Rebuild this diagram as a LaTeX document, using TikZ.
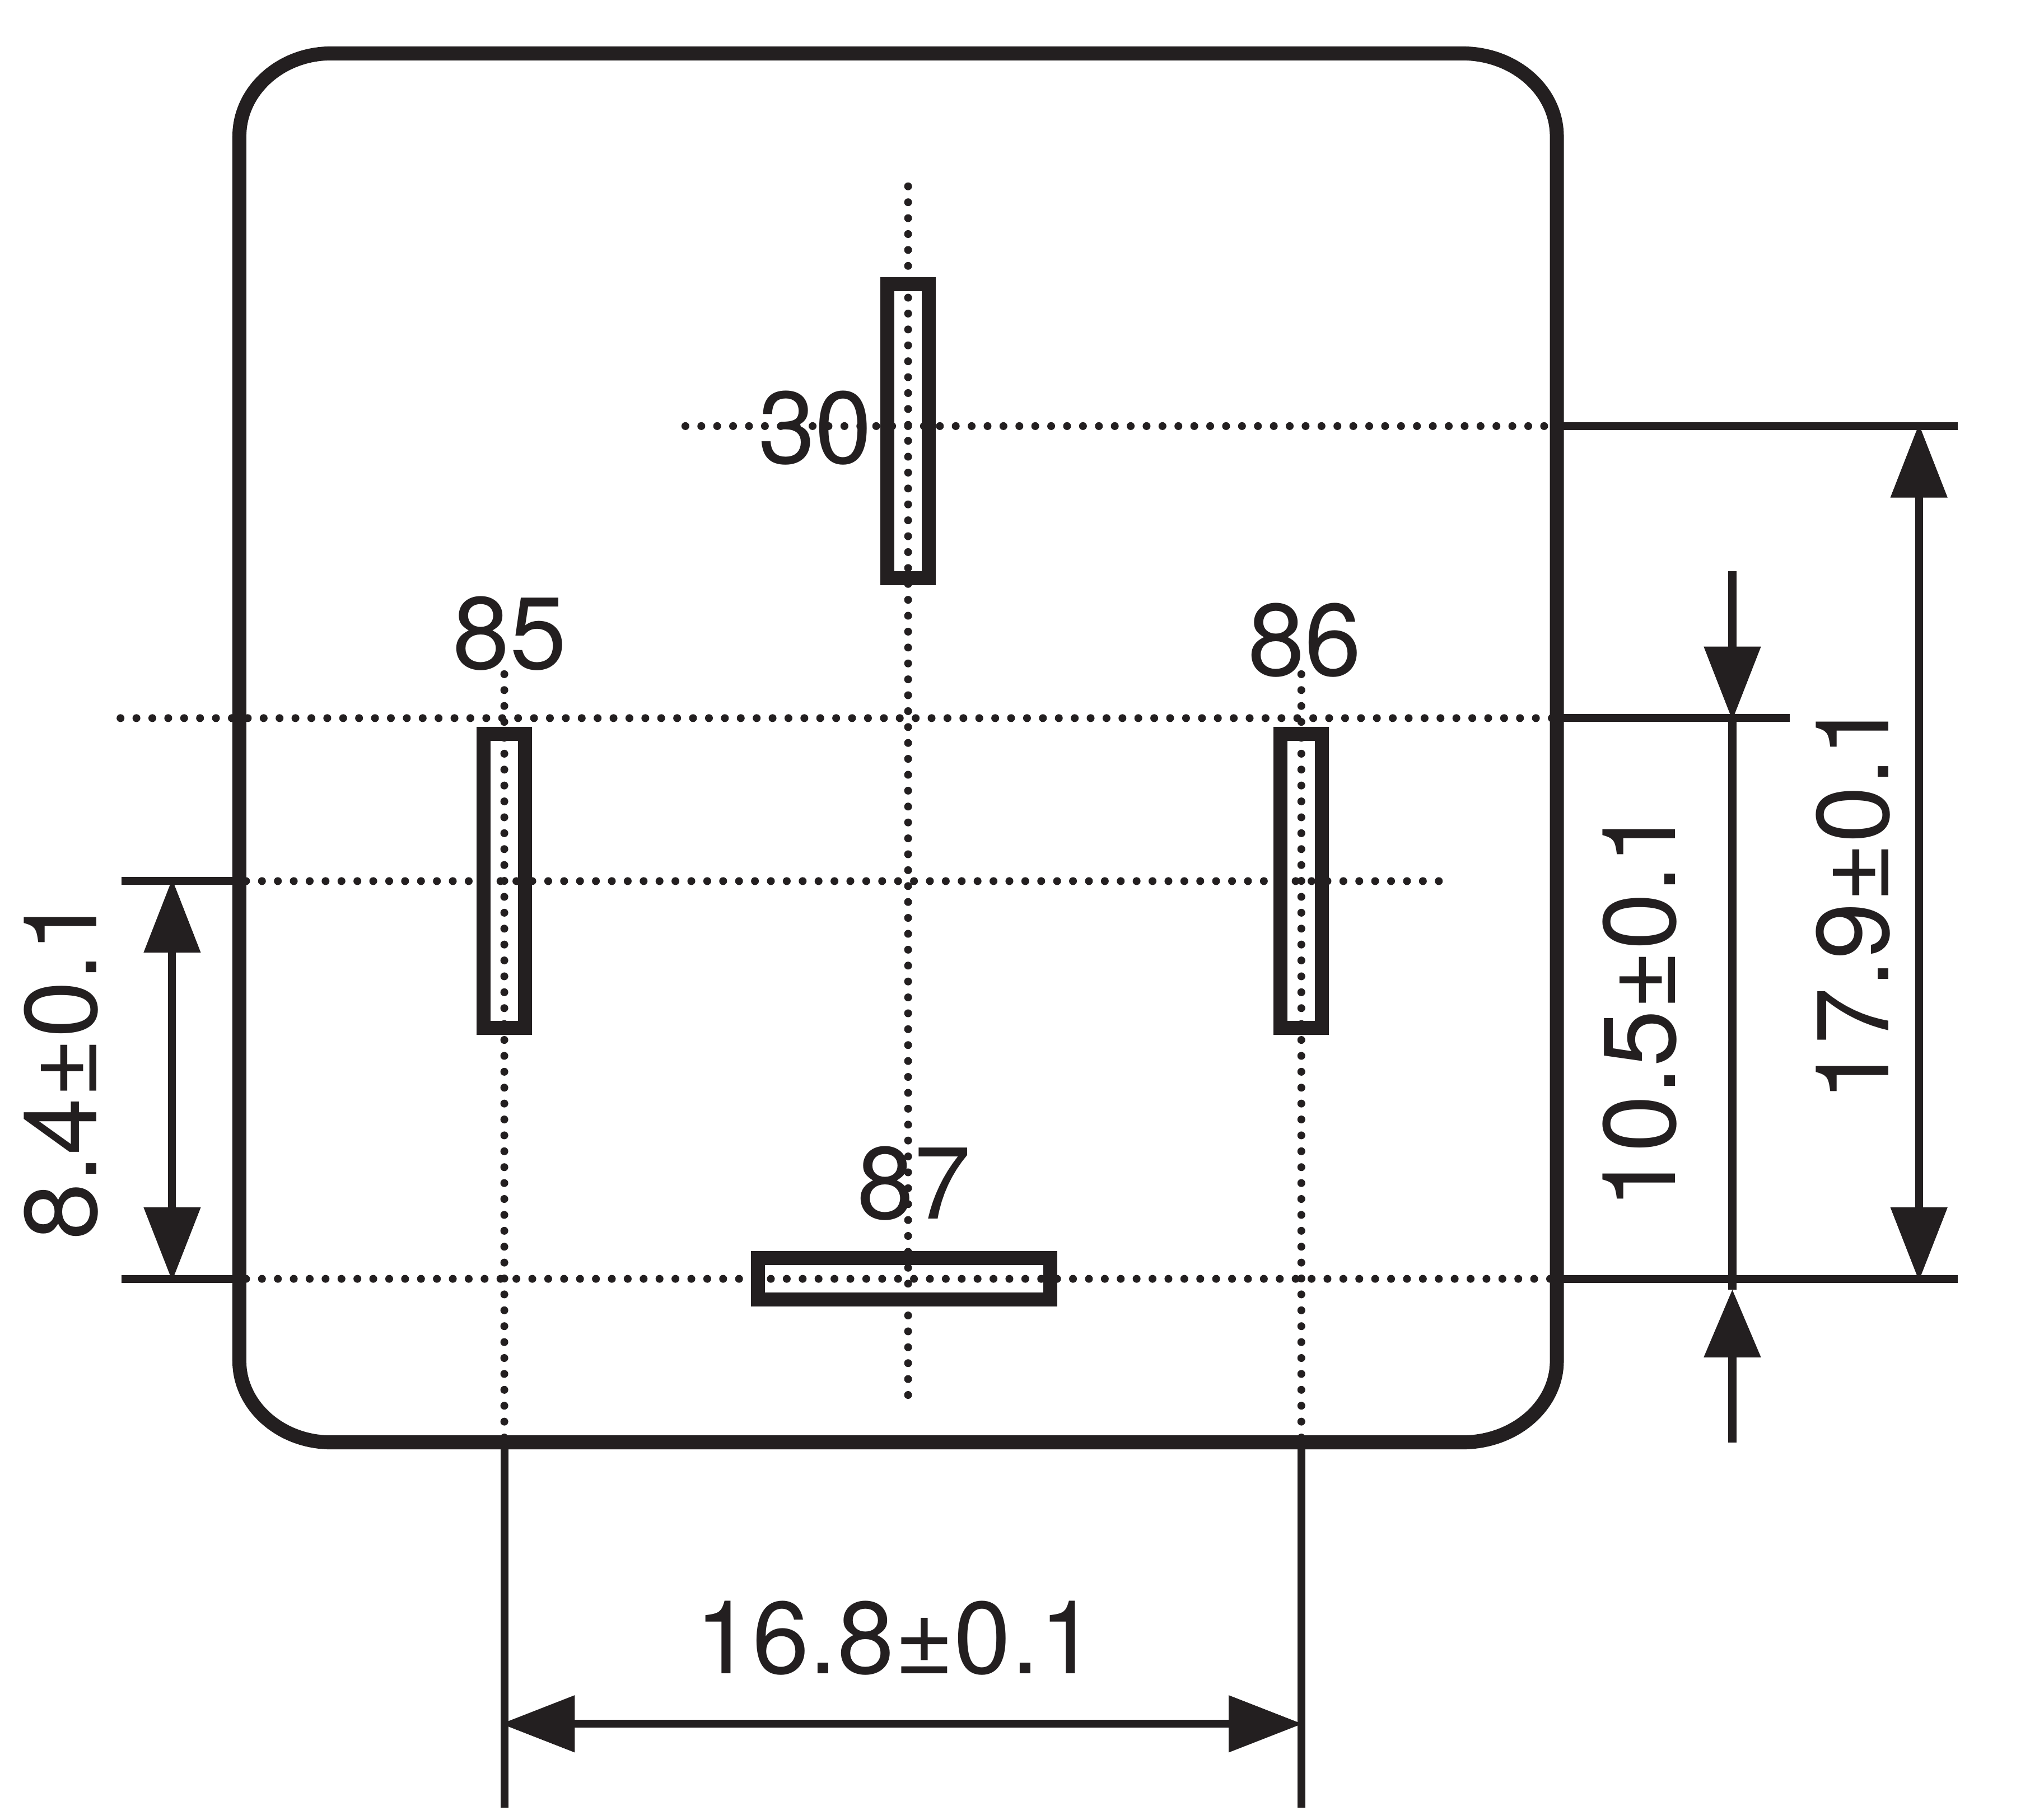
\documentclass[tikz,border=0pt]{standalone}
\usepackage{fontspec}
\setmainfont{TeX Gyre Heros}
\usetikzlibrary{arrows.meta}
\definecolor{ink}{HTML}{231F20}
\tikzset{
  outline/.style={draw=ink,line width=7.1pt,line join=round},
  pinbox/.style={draw=ink,fill=white,line width=7.1pt,inner sep=0pt,outer sep=0pt},
  dots/.style={draw=ink,line width=4pt,line cap=round,dash pattern=on 0pt off 8.08pt},
  dimline/.style={draw=ink,line width=4pt},
  tip/.tip={Triangle[length=37.5pt,width=28pt]},
  lowtip/.tip={Triangle[length=34.5pt,width=28pt]},
  lbl/.style={text=ink,inner sep=0pt,font=\fontsize{52}{52}\selectfont}
}
\begin{document}
\begin{tikzpicture}[x=0.009924cm,y=-0.00994cm]
\useasboundingbox[fill=white] (0cm,0cm) rectangle (36.25cm,-32.5cm);
% housing
\draw[outline] (596,96) -- (2633,96) .. controls (2727,96) and (2803,163) .. (2803,245)
  -- (2803,2447) .. controls (2803,2527) and (2727,2593) .. (2633,2593)
  -- (596,2593) .. controls (505,2593) and (431,2527) .. (431,2447)
  -- (431,245) .. controls (431,163) and (505,96) .. (596,96) -- cycle;
% pins
\node[pinbox,minimum width=0.74cm,minimum height=5.25cm] (p30) at (1635,775) {};
\node[pinbox,minimum width=0.74cm,minimum height=5.25cm] (p85) at (908,1584) {};
\node[pinbox,minimum width=0.74cm,minimum height=5.25cm] (p86) at (2343,1584) {};
\node[pinbox,minimum width=5.22cm,minimum height=0.74cm] (p87) at (1628,2299) {};
% centre lines
\draw[dots] (1635,335) -- (1635,2530);
\draw[dots] (1234,766) -- (2796,766);
\draw[dots] (217,1291) -- (2796,1291);
\draw[dots] (443,1584) -- (2596,1584);
\draw[dots] (443,2299) -- (2796,2299);
\draw[dots] (908,1212) -- (908,2592);
\draw[dots] (2343,1212) -- (2343,2592);
% extension line ends
\coordinate (r1a) at (2812,766);   \coordinate (r1b) at (3525,766);
\coordinate (r2a) at (2812,1291);  \coordinate (r2b) at (3222,1291);
\coordinate (r3a) at (2812,2299);  \coordinate (r3b) at (3525,2299);
\coordinate (l1a) at (219,1584);   \coordinate (l1b) at (431,1584);
\coordinate (l2a) at (219,2299);   \coordinate (l2b) at (431,2299);
\coordinate (b1a) at (908,2605);   \coordinate (b1b) at (908,3250);
\coordinate (b2a) at (2343,2605);  \coordinate (b2b) at (2343,3250);
\foreach \a/\b in {r1a/r1b,r2a/r2b,r3a/r3b,l1a/l1b,l2a/l2b,b1a/b1b,b2a/b2b}
  \draw[dimline] (\a) -- (\b);
% dimensions
\coordinate (d17a) at (3455,762);  \coordinate (d17b) at (3455,2303);
\draw[dimline,{tip}-{tip}] (d17a) -- (d17b);
\coordinate (d10t) at (3119,1027); \coordinate (d10a) at (3119,1295);
\coordinate (d10b) at (3119,2318); \coordinate (d10e) at (3119,2593);
\draw[dimline] (d10a) -- (d10b);
\draw[dimline,-{tip}] (d10t) -- (d10a);
\draw[dimline,-{lowtip}] (d10e) -- (d10b);
\coordinate (d8a) at (310,1580);   \coordinate (d8b) at (310,2303);
\draw[dimline,{tip}-{tip}] (d8a) -- (d8b);
\coordinate (d16a) at (902,3099);  \coordinate (d16b) at (2345,3099);
\draw[dimline,{tip}-{tip}] (d16a) -- (d16b);
% labels
\node[lbl] (t30) at (1468,769) {30};
\node[lbl] (t85) at (918,1139) {85};
\node[lbl] (t86) at (2349,1151) {86};
\node[lbl] (t87) at (1646,2127) {87};
\node[lbl] (t16) at (1613,2945) {16.8±0.1};
\node[lbl,rotate=90] (t84) at (110,1920) {8.4±0.1};
\node[lbl,rotate=90] (t105) at (2952,1813) {10.5±0.1};
\node[lbl,rotate=90] (t179) at (3336,1620) {17.9±0.1};
\end{tikzpicture}
\end{document}
